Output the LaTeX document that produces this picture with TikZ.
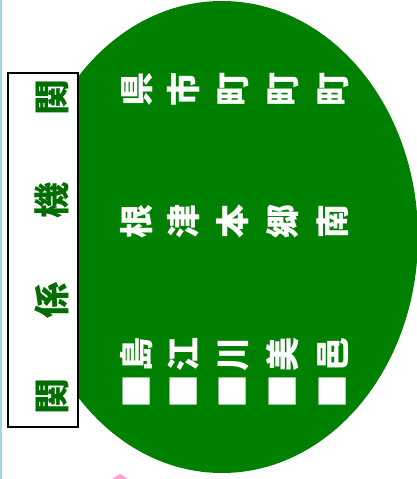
\documentclass[tikz,border=0pt]{standalone}
\usepackage{fontspec}
\newfontfamily\jpfont{Noto Sans CJK JP}
\usetikzlibrary{positioning}
\definecolor{ovalgreen}{RGB}{0,128,0}
\definecolor{labelgreen}{RGB}{0,110,0}
\definecolor{edgecyan}{RGB}{160,215,225}
\definecolor{tippink}{RGB}{255,160,205}

\begin{document}
\begin{tikzpicture}[x=1pt,y=1pt,
  town/.style={rotate=90,inner sep=0pt,text=white,font=\jpfont\bfseries\fontsize{34}{34}\selectfont},
  org/.style={rotate=90,inner sep=0pt,text=labelgreen,font=\jpfont\bfseries\fontsize{36}{36}\selectfont}]
\useasboundingbox (0,0) rectangle (417,479);
\clip (0,0) rectangle (417,479);
\draw[edgecyan,line width=1.5pt] (0.8,0) -- (0.8,479);
\fill[tippink] (120,5) -- (134,-4) -- (106,-4) -- cycle;
% the oval of member towns
\fill[ovalgreen] (222,242) ellipse [x radius=196,y radius=236];
\node[draw,line width=1.5pt,fill=white,minimum width=70pt,minimum height=354pt,inner sep=0pt] (orgbox) at (43,229) {};
\node[org] (orglabel) at (52,232) {関\hspace{61pt}係\hspace{64pt}機\hspace{67pt}関};
\foreach \name/\x/\first/\second/\third in {shimane/137/島/根/県,gotsu/184/江/津/市,kawamoto/233/川/本/町,misato/283/美/郷/町,ohnan/333/邑/南/町}
  \node[town] (\name) at (\x,238.5) {■\hspace{4pt}\first\hspace{98pt}\second\hspace{99pt}\third};
\end{tikzpicture}
\end{document}
